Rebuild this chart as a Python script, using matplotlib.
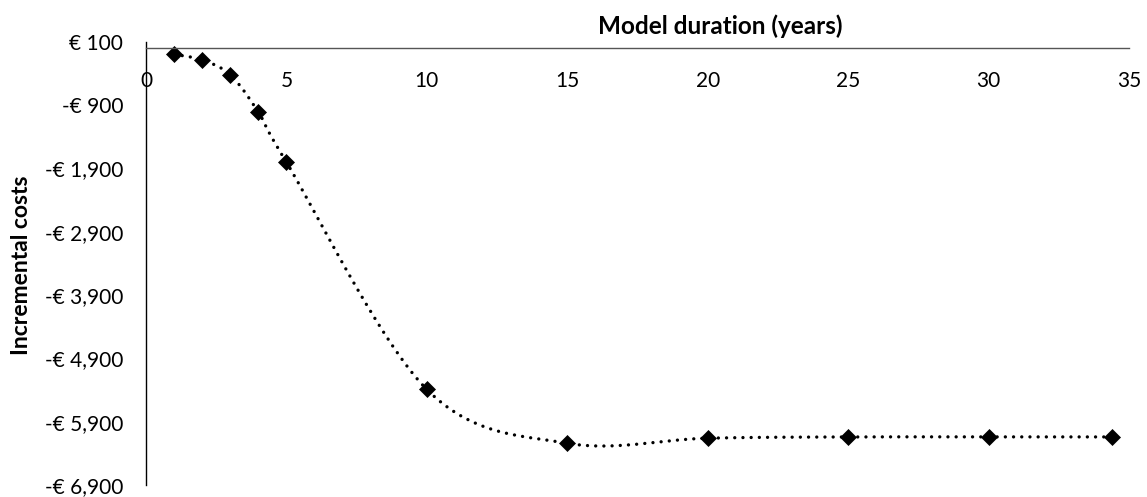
import numpy as np
import matplotlib
matplotlib.use('Agg')
import matplotlib.pyplot as plt
from matplotlib.ticker import FuncFormatter

# =========================
# DATA
# =========================
years = [1, 2, 3, 4, 5, 10, 15, 20, 25, 30, 34.4]
incremental_costs = [-95, -185, -420, -1010, -1800, -5390, -6240, -6160, -6140, -6140, -6140]

y_ticks = [100, -900, -1900, -2900, -3900, -4900, -5900, -6900]
x_ticks = [0, 5, 10, 15, 20, 25, 30, 35]


# =========================
# EXCEL-LIKE SMOOTHED LINE
# =========================
def smooth_curve(x, y, n=40):
    pts = np.column_stack([x, y]).astype(float)
    out = [pts[0]]
    for i in range(len(pts) - 1):
        p0 = pts[i - 1] if i > 0 else pts[i]
        p1 = pts[i]
        p2 = pts[i + 1]
        p3 = pts[i + 2] if i + 2 < len(pts) else pts[i + 1]
        c1 = p1 + (p2 - p0) / 6.0
        c2 = p2 - (p3 - p1) / 6.0
        t = np.linspace(0, 1, n)[1:, None]
        seg = ((1 - t) ** 3) * p1 + 3 * ((1 - t) ** 2) * t * c1 \
            + 3 * (1 - t) * t ** 2 * c2 + t ** 3 * p2
        out.extend(seg)
    out = np.array(out)
    return out[:, 0], out[:, 1]


sx, sy = smooth_curve(years, incremental_costs)

# =========================
# PLOT
# =========================
plt.rcParams['font.family'] = ['Lato', 'DejaVu Sans']

fig = plt.figure(figsize=(11.47, 4.97), dpi=100)
ax = fig.add_axes([0.1273, 0.0241, 0.8570, 0.8914])

ax.plot(sx, sy, color='black', linewidth=2.4, linestyle=(0, (0.01, 2.45)),
        dash_capstyle='round', solid_capstyle='round')
ax.plot(years, incremental_costs, linestyle='none', marker='D', markersize=8.0,
        color='black', markeredgewidth=0.5)

ax.set_xlim(0, 35)
ax.set_ylim(-6900, 100)
ax.set_xticks(x_ticks)
ax.set_yticks(y_ticks)


def euro(v, pos):
    if v < 0:
        return f'-€ {abs(v):,.0f}'
    return f'€ {v:,.0f}'


ax.yaxis.set_major_formatter(FuncFormatter(euro))

ax.spines['right'].set_visible(False)
ax.spines['top'].set_visible(False)
ax.spines['bottom'].set_position(('data', 0))
ax.spines['bottom'].set_color('#555555')
ax.spines['bottom'].set_linewidth(1.0)
ax.spines['left'].set_color('black')
ax.spines['left'].set_linewidth(1.0)

ax.tick_params(axis='both', length=0, labelsize=15, colors='black')
ax.tick_params(axis='x', pad=16)
ax.tick_params(axis='y', pad=16.5)

fig.text(720 / 1147, 1 - 26 / 497, 'Model duration (years)', ha='center', va='center',
         fontsize=17.5, fontweight='bold')
fig.text(22 / 1147, 1 - 265 / 497, 'Incremental costs', ha='center', va='center',
         rotation=90, fontsize=16.5, fontweight='bold')

fig.savefig('out.png', dpi=100)
